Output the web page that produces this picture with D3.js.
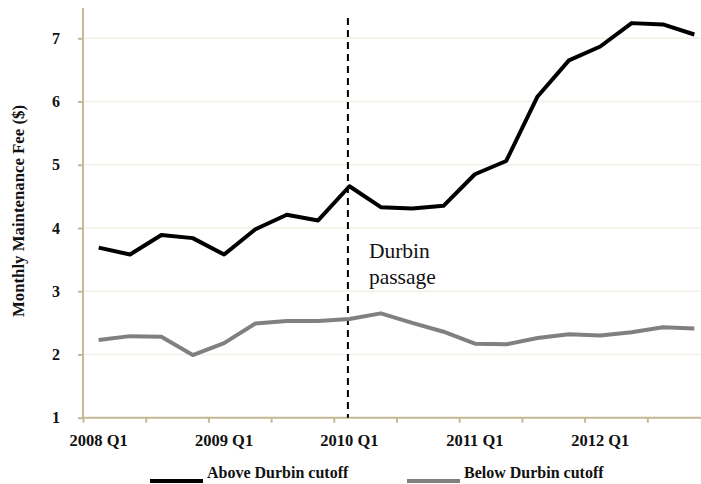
<!DOCTYPE html>
<html><head><meta charset="utf-8">
<script src="https://cdn.jsdelivr.net/npm/d3@7"></script>
<style>body{margin:0;background:#fff}svg{display:block}</style>
</head><body>
<script>
const quarters = ["2008 Q1","2008 Q2","2008 Q3","2008 Q4","2009 Q1","2009 Q2","2009 Q3","2009 Q4",
  "2010 Q1","2010 Q2","2010 Q3","2010 Q4","2011 Q1","2011 Q2","2011 Q3","2011 Q4",
  "2012 Q1","2012 Q2","2012 Q3","2012 Q4"];
const above = [3.69,3.58,3.89,3.84,3.58,3.98,4.21,4.12,4.66,4.33,4.31,4.35,4.85,5.06,6.08,6.65,6.87,7.24,7.22,7.06];
const below = [2.23,2.29,2.28,1.99,2.18,2.49,2.53,2.53,2.56,2.65,2.50,2.36,2.17,2.16,2.26,2.32,2.30,2.35,2.43,2.41];
const yTicks = [1,2,3,4,5,6,7];
const xLabels = ["2008 Q1","2009 Q1","2010 Q1","2011 Q1","2012 Q1"];
const seriesNames = ["Above Durbin cutoff","Below Durbin cutoff"];
const durbinAt = 7.95; // quarter index position of Durbin passage
const annotation = ["Durbin","passage"];

const W = 701, H = 484;
const svg = d3.select("body").append("svg").attr("width", W).attr("height", H);
const left = 83, catW = 31.35;
const x = d3.scaleLinear().domain([-0.5, 19.5]).range([left, left + 20 * catW]);
const y = d3.scaleLinear().domain([1, 7]).range([417.7, 38.3]);
const axisCol = "#c4b996";
const serif = "'Liberation Serif', 'DejaVu Serif', serif";

// gridlines
svg.append("g").selectAll("line").data(yTicks.filter(d => d > 1)).join("line")
  .attr("x1", left).attr("x2", W).attr("y1", d => y(d)).attr("y2", d => y(d))
  .attr("stroke", "#f1efe6").attr("stroke-width", 1.5);

// y axis
const yAxis = svg.append("g").attr("transform", `translate(${left},0)`)
  .call(d3.axisLeft(y).tickValues(yTicks).tickSize(5).tickPadding(18).tickFormat(d3.format("d")));
yAxis.select(".domain").remove();
yAxis.append("line").attr("x1", 0).attr("x2", 0).attr("y1", 8).attr("y2", y(1)).attr("stroke", axisCol).attr("stroke-width", 2);
yAxis.selectAll(".tick line").attr("stroke", axisCol).attr("stroke-width", 2);
yAxis.selectAll(".tick text").attr("font-family", serif).attr("font-weight", "bold").attr("font-size", 16).attr("fill", "#111");

// x axis
const xAxis = svg.append("g").attr("transform", `translate(0,${y(1)})`)
  .call(d3.axisBottom(x).tickValues(d3.range(-0.5, 19.5, 2)).tickSize(5).tickFormat(""));
xAxis.select(".domain").attr("stroke", axisCol).attr("stroke-width", 2).attr("d", `M${left},0H${W}`);
xAxis.selectAll(".tick line").attr("stroke", axisCol).attr("stroke-width", 2);
svg.append("g").selectAll("text").data(xLabels).join("text")
  .attr("x", d => x(quarters.indexOf(d))).attr("y", 446)
  .attr("text-anchor", "middle").attr("font-family", serif).attr("font-weight", "bold")
  .attr("font-size", 16.5).attr("fill", "#111").text(d => d);

// y title
svg.append("text").attr("transform", "translate(24,211) rotate(-90)")
  .attr("text-anchor", "middle").attr("font-family", serif).attr("font-weight", "bold")
  .attr("font-size", 16.8).attr("fill", "#111").text("Monthly Maintenance Fee ($)");

// durbin line
svg.append("line").attr("x1", x(durbinAt)).attr("x2", x(durbinAt)).attr("y1", 18).attr("y2", y(1))
  .attr("stroke", "#000").attr("stroke-width", 2).attr("stroke-dasharray", "7,5");
svg.append("g").selectAll("text").data(annotation).join("text")
  .attr("x", x(durbinAt) + 21).attr("y", (d, i) => 258 + i * 26)
  .attr("font-family", serif).attr("font-size", 21.5).attr("fill", "#111").text(d => d);

// lines
const line = d3.line().x((d, i) => x(i)).y(d => y(d));
svg.append("path").datum(below).attr("d", line).attr("fill", "none")
  .attr("stroke", "#808080").attr("stroke-width", 4).attr("stroke-linejoin", "round");
svg.append("path").datum(above).attr("d", line).attr("fill", "none")
  .attr("stroke", "#000").attr("stroke-width", 4).attr("stroke-linejoin", "round");

// legend
const legend = svg.append("g").selectAll("g").data(seriesNames).join("g")
  .attr("transform", (d, i) => `translate(${150 + i * 257},0)`);
legend.append("line").attr("x1", 0).attr("x2", 53).attr("y1", 481).attr("y2", 481)
  .attr("stroke", (d, i) => i ? "#808080" : "#000").attr("stroke-width", 4);
legend.append("text").attr("x", 57).attr("y", 478)
  .attr("font-family", serif).attr("font-weight", "bold").attr("font-size", 16).attr("fill", "#111").text(d => d);
</script>
</body></html>
